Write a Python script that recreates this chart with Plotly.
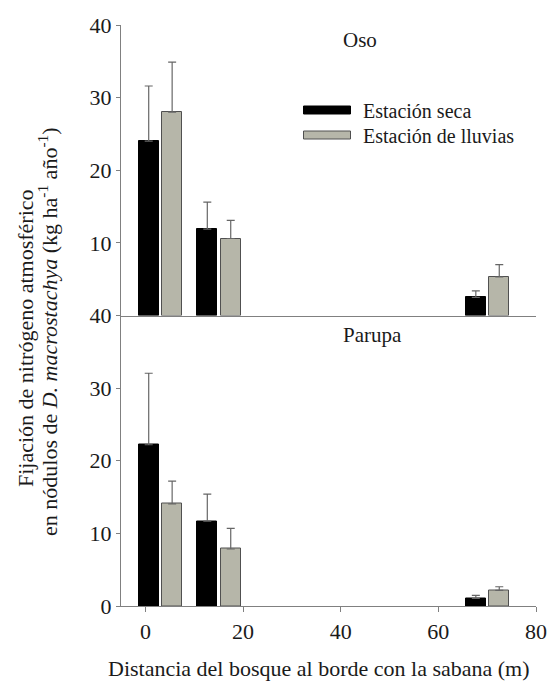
import plotly.graph_objects as go
from plotly.subplots import make_subplots

distance = [3, 15, 70]
x_ticks = [0, 20, 40, 60, 80]

oso_seca = [24.0, 11.9, 2.5]
oso_seca_err = [7.6, 3.7, 0.9]
oso_lluvias = [28.0, 10.6, 5.3]
oso_lluvias_err = [6.9, 2.5, 1.7]

parupa_seca = [22.2, 11.7, 1.05]
parupa_seca_err = [9.85, 3.7, 0.4]
parupa_lluvias = [14.05, 7.85, 2.15]
parupa_lluvias_err = [3.15, 2.85, 0.5]

series_names = ["Estación seca", "Estación de lluvias"]
panel_names = ["Oso", "Parupa"]
x_title = "Distancia del bosque al borde con la sabana (m)"
y_title_1 = "Fijación de nitrógeno atmosférico"
y_title_2 = "en nódulos de <i>D. macrostachya</i> (kg ha<sup>-1</sup> año<sup>-1</sup>)"

BLACK = "#000000"
GRAY = "#b6b6a9"
AXIS = "#808080"
FONT = "'Liberation Serif', 'Times New Roman', 'DejaVu Serif', serif"
TXT = "#1a1a1a"

fig = make_subplots(rows=2, cols=1, shared_xaxes=True, vertical_spacing=0)

panels = [(oso_seca, oso_seca_err, oso_lluvias, oso_lluvias_err),
          (parupa_seca, parupa_seca_err, parupa_lluvias, parupa_lluvias_err)]

for r, (s, se, l, le) in enumerate(panels, start=1):
    fig.add_trace(go.Bar(
        x=distance, y=s, offset=-4.35, width=4.05,
        marker=dict(color=BLACK, line=dict(color=BLACK, width=1)),
        error_y=dict(type="data", array=se, symmetric=False,
                     arrayminus=[0] * len(se), color="#666666",
                     thickness=1.2, width=4),
        name=series_names[0], showlegend=False), row=r, col=1)
    fig.add_trace(go.Bar(
        x=distance, y=l, offset=0.45, width=4.05,
        marker=dict(color=GRAY, line=dict(color="#505050", width=1)),
        error_y=dict(type="data", array=le, symmetric=False,
                     arrayminus=[0] * len(le), color="#666666",
                     thickness=1.2, width=4),
        name=series_names[1], showlegend=False), row=r, col=1)

axis_common = dict(showline=True, linecolor=AXIS, linewidth=1.2,
                   showgrid=False, zeroline=False, automargin=False,
                   tickfont=dict(family=FONT, size=22, color=TXT))

fig.update_xaxes(range=[-5, 80], **axis_common)
fig.update_xaxes(ticks="", showticklabels=False, row=1, col=1)
fig.update_xaxes(ticks="outside", ticklen=5, tickcolor=AXIS, tickwidth=1.2,
                 tickvals=x_ticks, showticklabels=True, row=2, col=1)

fig.update_yaxes(range=[0, 40], ticks="outside", ticklen=4, tickcolor=AXIS,
                 tickwidth=1.2, **axis_common)
fig.update_yaxes(tickvals=[10, 20, 30, 40], row=1, col=1)
fig.update_yaxes(tickvals=[0, 10, 20, 30, 40], row=2, col=1)

fig.update_layout(
    width=549, height=683,
    margin=dict(l=121, r=13, t=25, b=77),
    paper_bgcolor="white", plot_bgcolor="white",
    font=dict(family=FONT, color=TXT),
    showlegend=False,
    bargap=0,
)


def px_x(p):
    return (p - 121) / 415


def px_y(p):
    return (606 - p) / 581


# panel labels
fig.add_annotation(text=panel_names[0], xref="paper", yref="paper",
                   x=px_x(360), y=px_y(40), xanchor="center", yanchor="middle",
                   showarrow=False, font=dict(family=FONT, size=21, color=TXT))
fig.add_annotation(text=panel_names[1], xref="paper", yref="paper",
                   x=px_x(372), y=px_y(335), xanchor="center", yanchor="middle",
                   showarrow=False, font=dict(family=FONT, size=21, color=TXT))

# legend
for color, line, y0, y1, name, yc in [
        (BLACK, BLACK, 106, 114, series_names[0], 110.5),
        (GRAY, "#505050", 131, 139, series_names[1], 135.5)]:
    fig.add_shape(type="rect", xref="paper", yref="paper",
                  x0=px_x(303.5), x1=px_x(350.5), y0=px_y(y1), y1=px_y(y0),
                  fillcolor=color, line=dict(color=line, width=1))
    fig.add_annotation(text=name, xref="paper", yref="paper",
                       x=px_x(361), y=px_y(yc), xanchor="left", yanchor="middle",
                       showarrow=False,
                       font=dict(family=FONT, size=20, color=TXT))

# x-axis title
fig.add_annotation(text=x_title, xref="paper", yref="paper",
                   x=px_x(319), y=px_y(668), xanchor="center", yanchor="middle",
                   showarrow=False, font=dict(family=FONT, size=22, color=TXT))

# y-axis title (two lines)
fig.add_annotation(text=y_title_1, xref="paper", yref="paper",
                   x=px_x(25), y=px_y(338), xanchor="center", yanchor="middle",
                   textangle=-90, showarrow=False,
                   font=dict(family=FONT, size=22, color=TXT))
fig.add_annotation(text=y_title_2, xref="paper", yref="paper",
                   x=px_x(48), y=px_y(332), xanchor="center", yanchor="middle",
                   textangle=-90, showarrow=False,
                   font=dict(family=FONT, size=22, color=TXT))

fig.write_html(
    "out.html",
    config={"displayModeBar": False},
    post_script="document.body.style.margin='0';document.body.style.overflow='hidden';",
)
